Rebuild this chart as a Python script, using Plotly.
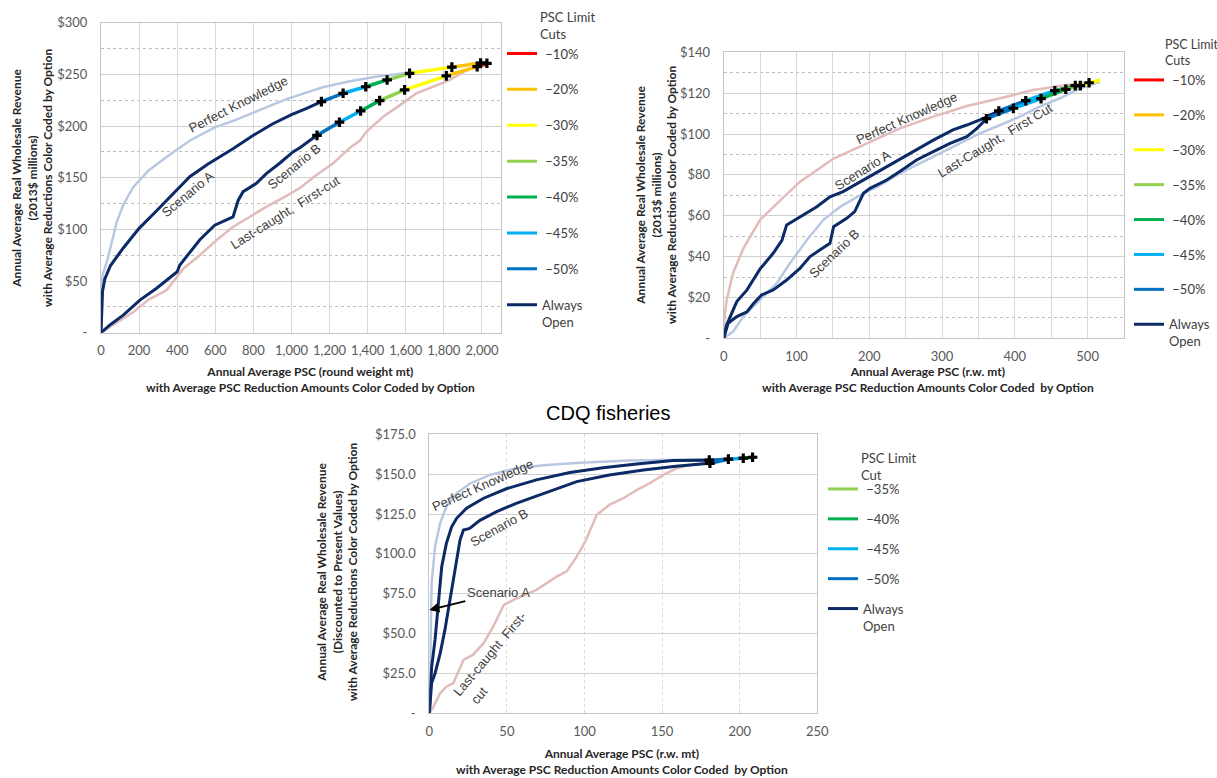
import plotly.graph_objects as go

W, H = 1217, 778

# ---------------- data ----------------
CUT_NAMES = ["−10%", "−20%", "−30%", "−35%", "−40%", "−45%", "−50%", "Always<br>Open"]
CUT_COLORS = ["#ff0000", "#ffc000", "#ffff00", "#92d050", "#00b050", "#00b0f0", "#0070c0", "#0b2a66"]
BOTTOM_LEGEND = ["−35%", "−40%", "−45%", "−50%", "Always<br>Open"]

# --- top-left chart (round weight mt, $ millions) ---
TL_XTICKS = [0, 200, 400, 600, 800, 1000, 1200, 1400, 1600, 1800, 2000]
TL_XTICK_TEXT = ["0", "200", "400", "600", "800", "1,000", "1,200", "1,400", "1,600", "1,800", "2,000"]
TL_YTICKS = [0, 50, 100, 150, 200, 250, 300]
TL_YTICK_TEXT = ["-", "$50", "$100", "$150", "$200", "$250", "$300"]

TL_PK_X = [0, 2, 10, 30, 60, 82, 120, 170, 250, 344, 467, 600, 694, 800, 974, 1164, 1300, 1450, 1620, 1800, 1900, 2030]
TL_PK_Y = [0, 45, 57, 68, 90, 107, 125, 141, 157, 170, 186, 199, 205, 213, 226, 237.5, 243, 248, 251.5, 256, 258.5, 261]

TL_A_X = [0, 3, 8, 20, 50, 117, 200, 292, 380, 466, 560, 693, 800, 900, 1000, 1080, 1157]
TL_A_Y = [0, 25, 40, 52, 65, 82, 101, 118, 135, 151, 163, 178, 191, 202, 211, 217, 223.6]
TL_A_TAIL_X = [1157, 1271, 1390, 1502, 1620, 1842, 1993, 2026]
TL_A_TAIL_Y = [223.6, 231.7, 238, 244.6, 251, 257, 261, 260.7]
TL_A_TAIL_CUTS = ["−50%", "−45%", "−40%", "−35%", "−30%", "−20%", "−10%"]

TL_B_X = [0, 50, 117, 204, 292, 379, 400, 414, 466, 519, 597, 676, 693, 720, 746, 816, 868, 938, 1008, 1044, 1134]
TL_B_Y = [0, 8, 17, 31.6, 43, 56, 59, 65.5, 78, 90, 104, 110.6, 112, 128, 136.5, 144.5, 154, 164, 175, 179, 191]
TL_B_TAIL_X = [1134, 1252, 1363, 1463, 1594, 1813, 1975, 2030]
TL_B_TAIL_Y = [191, 203.7, 214.6, 224.6, 235, 248.5, 257.5, 260.5]
TL_B_TAIL_CUTS = ["−50%", "−45%", "−40%", "−35%", "−30%", "−20%", "−10%"]

TL_LC_X = [0, 100, 170, 250, 344, 432, 519, 607, 694, 780, 869, 960, 1044, 1131, 1219, 1306, 1360, 1393, 1481, 1568, 1655, 1743, 1830, 1918, 1975, 2030]
TL_LC_Y = [0, 12, 20, 32, 41, 62, 75, 89.7, 102.6, 112, 122, 131, 140, 152.6, 164, 178.7, 186, 194.5, 209, 220, 231.6, 238, 244.5, 254, 258, 261]

TL_MARK_X = [1157, 1271, 1390, 1502, 1620, 1842, 1993, 2026, 1134, 1252, 1363, 1463, 1594, 1813, 1975]
TL_MARK_Y = [223.6, 231.7, 238, 244.6, 251, 257, 261, 260.7, 191, 203.7, 214.6, 224.6, 235, 248.5, 257.5]

# --- top-right chart (r.w. mt, $ millions) ---
TR_XTICKS = [0, 50, 100, 150, 200, 250, 300, 350, 400, 450, 500, 550]
TR_XTICK_TEXT = ["0", "", "100", "", "200", "", "300", "", "400", "", "500", ""]
TR_YTICKS = [0, 20, 40, 60, 80, 100, 120, 140]
TR_YTICK_TEXT = ["-", "$20", "$40", "$60", "$80", "$100", "$120", "$140"]

TR_PK_X = [0, 1, 4, 13, 27, 50, 82, 105, 151, 196, 242, 288, 334, 380, 425, 471, 503, 517]
TR_PK_Y = [0, 10, 18.8, 32, 44, 58, 69, 76.7, 88, 95.4, 102.8, 108.5, 113.7, 117.5, 121.5, 124, 125, 125.5]

TR_A_X = [0, 4, 9, 18, 32, 50, 68, 80, 86.5, 105, 128, 146, 164, 196, 219, 251, 288, 315, 334, 357, 378]
TR_A_Y = [0, 6.5, 10.6, 18, 23.7, 34, 41.6, 48, 55.5, 59.5, 64.4, 69.3, 71.8, 78.3, 83, 89.7, 97, 102, 104.4, 107.7, 111.3]
TR_A_TAIL_X = [378, 415, 455, 483, 502, 517]
TR_A_TAIL_Y = [111.3, 116.3, 121.2, 123.7, 125.1, 126.3]
TR_A_TAIL_CUTS = ["−50%", "−45%", "−40%", "−35%", "−30%"]

TR_B_X = [0, 6, 18, 32, 41, 52, 68, 86.5, 105, 118.6, 132, 146, 151, 169, 180, 192, 201, 224, 242, 265, 288, 311, 334, 348, 361]
TR_B_Y = [0, 7.3, 10.6, 13, 17, 21.2, 23.7, 28.5, 34.3, 40, 43.2, 46.5, 54.6, 58.7, 62, 71, 73.4, 77.5, 81.6, 87.3, 91.4, 95.4, 98.7, 102.8, 107.5]
TR_B_TAIL_X = [361, 398, 436, 470, 490, 505]
TR_B_TAIL_Y = [107.5, 112.6, 117.3, 121.9, 123.7, 125]
TR_B_TAIL_CUTS = ["−50%", "−45%", "−40%", "−35%", "−30%"]

TR_LC_X = [0, 13, 27, 41, 54, 73, 91, 114, 137, 160, 187, 215, 242, 270, 297, 325, 352, 380, 407, 434, 462, 489, 517]
TR_LC_Y = [0, 3.3, 10.6, 15.5, 20.4, 27, 36.7, 48, 58, 64.4, 70, 75, 80.7, 85.6, 90.5, 95.4, 100.3, 104.4, 108.5, 113.4, 117.5, 122.3, 125.6]

TR_MARK_X = [361, 378, 398, 415, 436, 455, 470, 483, 490, 502]
TR_MARK_Y = [107.5, 111.3, 112.6, 116.3, 117.3, 121.2, 121.9, 123.7, 123.7, 125.1]

# --- bottom chart: CDQ fisheries ---
BT_XTICKS = [0, 50, 100, 150, 200, 250]
BT_XTICK_TEXT = ["0", "50", "100", "150", "200", "250"]
BT_YTICKS = [0, 25, 50, 75, 100, 125, 150, 175]
BT_YTICK_TEXT = ["-", "$25.0", "$50.0", "$75.0", "$100.0", "$125.0", "$150.0", "$175.0"]

BT_PK_X = [0, 0.5, 1, 1.5, 3.7, 6.9, 11, 17.6, 26, 39, 56, 75.6, 97, 129, 161.5, 181]
BT_PK_Y = [0, 30, 58, 81.5, 104.5, 119, 129.6, 138, 144, 149.5, 153.7, 155.8, 157.2, 158.5, 159, 159.5]

BT_A_X = [0, 1.5, 3.7, 5.8, 8, 11, 14.4, 17.6, 24, 35, 50, 69, 90.6, 112, 133.6, 157, 180.4]
BT_A_Y = [0, 29, 46, 67, 92, 106.6, 117, 122.3, 128.6, 134.9, 141, 146.4, 151, 154, 156.4, 158.5, 158.8]
BT_A_TAIL_X = [180.4, 192.7, 202.3, 208.3, 210.5]
BT_A_TAIL_Y = [158.8, 159.4, 160, 160.6, 160.6]
BT_A_TAIL_CUTS = ["−50%", "−45%", "−40%", "−35%"]

BT_B_X = [0, 1.5, 3.7, 7, 10, 13.3, 16.5, 19.8, 22, 26, 32.6, 43.4, 56, 73.5, 95, 116, 138, 159, 180.8]
BT_B_Y = [0, 19, 25, 37.6, 52, 71, 92, 108.7, 115, 116, 121, 126.5, 131.7, 138, 145.3, 149.5, 152.6, 155, 156.8]
BT_B_TAIL_X = [180.8, 192.7]
BT_B_TAIL_Y = [156.8, 159.4]
BT_B_TAIL_CUTS = ["−50%"]

BT_LC_X = [0, 2.6, 6.9, 11, 15.5, 19.8, 22, 28, 35, 41, 48, 56, 69, 82, 88.5, 95, 101, 107.8, 116, 125, 133.6, 142, 150.8, 159.4, 168, 178.7]
BT_LC_Y = [0, 4, 12.5, 16.7, 19, 29, 33.5, 36.6, 44, 54, 68, 72, 77.4, 85.7, 89, 98.3, 108.7, 124.4, 130.7, 134.9, 140, 144.3, 149.5, 153.7, 155.8, 157.2]

BT_MARK_X = [180.4, 180.8, 192.7, 202.3, 208.3]
BT_MARK_Y = [158.8, 156.8, 159.4, 160, 160.6]

# ---------------- styling ----------------
CUT_COLOR = dict(zip(CUT_NAMES, CUT_COLORS))
NAVY = "#0b2a66"
PALE_BLUE = "#b9c8e2"
PALE_PINK = "#e2bcba"
TICK_FONT = dict(family="Lato, Carlito, sans-serif", size=13, color="#595959")
TITLE_FONT = dict(family="Lato, Carlito, sans-serif", size=12, color="#262626")
LABEL_FONT = dict(family="Liberation Sans, Arial, sans-serif", size=13, color="#404040")


def px_x(p):
    return p / W


def px_y(p):
    return 1 - p / H


fig = go.Figure()


def line(x, y, color, width, ax):
    fig.add_trace(go.Scatter(x=x, y=y, mode="lines", line=dict(color=color, width=width),
                             xaxis="x" + ax, yaxis="y" + ax, showlegend=False, hoverinfo="skip"))


def tail(xs, ys, cuts, ax):
    for i, c in enumerate(cuts):
        line(xs[i:i + 2], ys[i:i + 2], CUT_COLOR[c], 3.5, ax)


def marks(xs, ys, ax):
    fig.add_trace(go.Scatter(x=xs, y=ys, mode="markers",
                             marker=dict(symbol="cross", size=8, color="black", line=dict(width=0)),
                             xaxis="x" + ax, yaxis="y" + ax, showlegend=False, hoverinfo="skip"))


def legend_entries(names, legend_id, ax):
    for i, n in enumerate(names):
        label = n if n.startswith("Always") else "\u00a0" + n
        fig.add_trace(go.Scatter(x=[None], y=[None], mode="lines",
                                 line=dict(color=CUT_COLOR[n], width=3), name=label,
                                 legend=legend_id, legendgroup=f"{legend_id}_{i}",
                                 showlegend=True, xaxis="x" + ax, yaxis="y" + ax))


# top-left
line(TL_PK_X, TL_PK_Y, PALE_BLUE, 2.5, "")
line(TL_LC_X, TL_LC_Y, PALE_PINK, 2.5, "")
line(TL_A_X, TL_A_Y, NAVY, 3, "")
line(TL_B_X, TL_B_Y, NAVY, 3, "")
tail(TL_A_TAIL_X, TL_A_TAIL_Y, TL_A_TAIL_CUTS, "")
tail(TL_B_TAIL_X, TL_B_TAIL_Y, TL_B_TAIL_CUTS, "")
marks(TL_MARK_X, TL_MARK_Y, "")
legend_entries(CUT_NAMES, "legend", "")

# top-right
line(TR_PK_X, TR_PK_Y, PALE_PINK, 2.5, "2")
line(TR_LC_X, TR_LC_Y, PALE_BLUE, 2.5, "2")
line(TR_A_X, TR_A_Y, NAVY, 3, "2")
line(TR_B_X, TR_B_Y, NAVY, 3, "2")
tail(TR_A_TAIL_X, TR_A_TAIL_Y, TR_A_TAIL_CUTS, "2")
tail(TR_B_TAIL_X, TR_B_TAIL_Y, TR_B_TAIL_CUTS, "2")
marks(TR_MARK_X, TR_MARK_Y, "2")
legend_entries(CUT_NAMES, "legend2", "2")

# bottom
line(BT_PK_X, BT_PK_Y, PALE_BLUE, 2.5, "3")
line(BT_LC_X, BT_LC_Y, PALE_PINK, 2.5, "3")
line(BT_A_X, BT_A_Y, NAVY, 3, "3")
line(BT_B_X, BT_B_Y, NAVY, 3, "3")
tail(BT_A_TAIL_X, BT_A_TAIL_Y, BT_A_TAIL_CUTS, "3")
tail(BT_B_TAIL_X, BT_B_TAIL_Y, BT_B_TAIL_CUTS, "3")
marks(BT_MARK_X, BT_MARK_Y, "3")
legend_entries(BOTTOM_LEGEND, "legend3", "3")


def xaxis(domain, rng, tv, tt, anchor, dash="solid"):
    return dict(domain=domain, range=rng, tickmode="array", tickvals=tv, ticktext=tt, anchor=anchor,
                showline=True, mirror=True, linecolor="#c4c4c4", linewidth=1, zeroline=False,
                showgrid=True, gridcolor="#d9d9d9", gridwidth=1, griddash=dash, automargin=False,
                tickfont=TICK_FONT, ticks="", ticklabelstandoff=6, fixedrange=True)


def yaxis(domain, rng, tv, tt, anchor, minor_vals=None):
    d = dict(domain=domain, range=rng, tickmode="array", tickvals=tv, ticktext=tt, anchor=anchor,
             showline=True, mirror=True, linecolor="#c4c4c4", linewidth=1, zeroline=False,
             showgrid=True, gridcolor="#d0d0d0", gridwidth=1, automargin=False,
             tickfont=TICK_FONT, ticks="", ticklabelstandoff=10, fixedrange=True)
    if minor_vals:
        d["minor"] = dict(tickmode="array", tickvals=minor_vals, showgrid=True, gridcolor="#bdbdbd",
                          griddash="dot", gridwidth=1, ticks="")
    return d


legend_common = dict(bgcolor="rgba(0,0,0,0)", borderwidth=0, xanchor="left", yanchor="top",
                     traceorder="grouped", itemclick=False, itemdoubleclick=False, valign="top",
                     font=dict(family="Lato, Carlito, sans-serif", size=13, color="#404040"))

annotations = []


def ann(text, cx, cy, angle=0, font=LABEL_FONT, **kw):
    d = dict(text=text, x=px_x(cx), y=px_y(cy), xref="paper", yref="paper", showarrow=False,
             textangle=angle, font=font, xanchor="center", yanchor="middle")
    d.update(kw)
    annotations.append(d)


# curve labels
ann("Perfect Knowledge", 238, 105, -27)
ann("Scenario A", 187, 194, -40)
ann("Scenario B", 294, 166, -39)
ann("Last-caught,  First-cut", 285, 212, -32)

ann("Perfect Knowledge", 906, 118, -24)
ann("Scenario A", 862, 170, -32)
ann("Last-Caught,  First Cut", 995, 141, -31)
ann("Scenario B", 834, 253, -44)

ann("Perfect Knowledge", 482, 485, -24)
ann("Scenario B", 499, 527, -29)
ann("Last-caught  First-", 489, 654, -50)
ann("cut", 479, 695, -50)
annotations.append(dict(text="Scenario A", x=0, y=64.8, xref="x3", yref="y3", showarrow=True,
                        ax=69, ay=-17, arrowhead=2, arrowsize=1, arrowwidth=2, arrowcolor="black",
                        font=LABEL_FONT, standoff=0))

# axis titles
bold = dict(TITLE_FONT)
ann("<b>Annual Average Real Wholesale Revenue<br>(2013$ millions)<br>with Average Reductions Color Coded by Option</b>",
    32, 178, -90, bold)
ann("<b>Annual Average PSC (round weight mt)<br>with Average PSC Reduction Amounts Color Coded by Option</b>",
    310, 380, 0, bold)
ann("<b>Annual Average Real Wholesale Revenue<br>(2013$ millions)<br>with Average Reductions Color Coded by Option</b>",
    656, 195, -90, bold)
ann("<b>Annual Average PSC (r.w. mt)<br>with Average PSC Reduction Amounts Color Coded  by Option</b>",
    928, 380, 0, bold)
ann("<b>Annual Average Real Wholesale Revenue<br>(Discounted to Present Values)<br>with Average Reductions Color Coded by Option</b>",
    337, 572, -90, bold)
ann("<b>Annual Average PSC (r.w. mt)<br>with Average PSC Reduction Amounts Color Coded  by Option</b>",
    622, 761, 0, bold)

# legend titles
leg_font = dict(family="Lato, Carlito, sans-serif", size=13, color="#404040")
leg_font_small = dict(family="Lato, Carlito, sans-serif", size=12.5, color="#404040")
ann("PSC Limit<br>Cuts", 538, 26, 0, leg_font, xanchor="left", align="left")
ann("PSC Limit<br>Cuts", 1163, 53, 0, leg_font_small, xanchor="left", align="left")
ann("PSC Limit<br>Cut", 859, 466, 0, leg_font, xanchor="left", align="left")

# chart title
ann("CDQ fisheries", 608, 413, 0, dict(family="Liberation Sans, Arial, sans-serif", size=20, color="black"))

fig.update_layout(
    width=W, height=H, margin=dict(l=0, r=0, t=0, b=0, pad=0, autoexpand=False),
    paper_bgcolor="white", plot_bgcolor="white",
    xaxis=xaxis([px_x(101), px_x(501)], [0, 2100], TL_XTICKS, TL_XTICK_TEXT, "y"),
    yaxis=yaxis([px_y(332.7), px_y(22.7)], [0, 300], TL_YTICKS, TL_YTICK_TEXT, "x",
                [25, 75, 125, 175, 225, 275]),
    xaxis2=xaxis([px_x(723.7), px_x(1124)], [0, 550], TR_XTICKS, TR_XTICK_TEXT, "y2"),
    yaxis2=yaxis([px_y(338.3), px_y(52.3)], [0, 140], TR_YTICKS, TR_YTICK_TEXT, "x2",
                 [10, 30, 50, 70, 90, 110, 130]),
    xaxis3=xaxis([px_x(429.3), px_x(817.3)], [0, 250], BT_XTICKS, BT_XTICK_TEXT, "y3", "dot"),
    yaxis3=yaxis([px_y(713.3), px_y(434.3)], [0, 175], BT_YTICKS, BT_YTICK_TEXT, "x3"),
    legend=dict(**legend_common, x=px_x(502), y=px_y(38.5), tracegroupgap=16),
    legend2=dict(**legend_common, x=px_x(1129), y=px_y(65), tracegroupgap=15),
    legend3=dict(**legend_common, x=px_x(823), y=px_y(474), tracegroupgap=10),
    annotations=annotations,
)

fig.write_html("out.html", config={"displayModeBar": False},
               post_script="document.body.style.margin='0px';")
